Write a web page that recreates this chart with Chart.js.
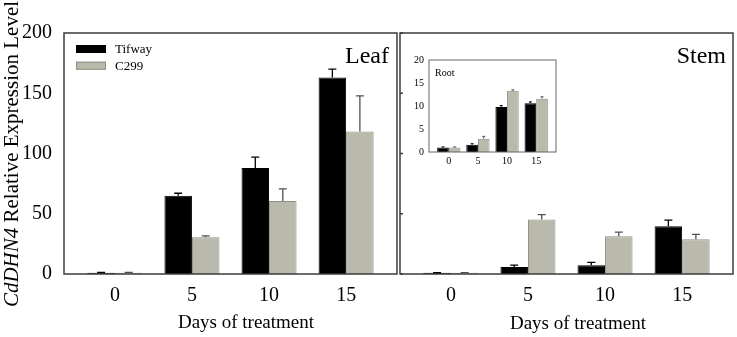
<!DOCTYPE html>
<html>
<head>
<meta charset="utf-8">
<script src="https://cdn.jsdelivr.net/npm/chart.js@4.4.1/dist/chart.umd.min.js"></script>
<style>
    body { margin: 0; background: #fff; }
    #wrap { position: relative; width: 737px; height: 337px; overflow: hidden; }
    #wrap canvas { position: absolute; }
</style>
</head>
<body>
<div id="wrap">
    <canvas id="leaf" width="398" height="337" style="left:0;top:0"></canvas>
    <canvas id="stem" width="347" height="337" style="left:390px;top:0"></canvas>
    <canvas id="root" width="165" height="135" style="left:400px;top:40px"></canvas>
</div>
<script>
// values (days of treatment on x)
const days = [0, 5, 10, 15];

const leafTifway = [1, 65, 88, 163];
const leafTifwayErr = [0.3, 2, 9, 7];
const leafC299 = [1, 30.6, 60.6, 118.3];
const leafC299Err = [0.3, 1, 10, 29.5];

const stemTifway = [1, 5.8, 7.2, 39.7];
const stemTifwayErr = [0.2, 1.5, 2.5, 5];
const stemC299 = [1, 45.3, 31.4, 28.9];
const stemC299Err = [0.2, 4, 3.3, 4];

const rootTifway = [1, 1.6, 9.8, 10.6];
const rootTifwayErr = [0.1, 0.2, 0.3, 0.3];
const rootC299 = [1, 2.9, 13.3, 11.6];
const rootC299Err = [0.1, 0.5, 0.2, 0.4];

const mainTicks = [0, 50, 100, 150, 200];
const rootTicks = [0, 5, 10, 15, 20];

const serif = "'Liberation Serif', 'Times New Roman', serif";
const black = '#000000';
const grey = '#b9b9ac';
const greyEdge = '#8e8e84';

function pts(vals) {
    return days.map((d, i) => ({ x: d, y: vals[i] }));
}

// box round the plot area, plus short inward ticks if asked
const framePlugin = {
    id: 'frame',
    afterDatasetsDraw(chart, args, opts) {
        const ctx = chart.ctx;
        const a = chart.chartArea;
        ctx.save();
        ctx.strokeStyle = opts.color || '#3c3c3c';
        ctx.lineWidth = opts.width || 1.5;
        ctx.strokeRect(a.left, a.top, a.right - a.left, a.bottom - a.top);
        if (opts.tickIn) {
            const y = chart.scales.y;
            ctx.beginPath();
            y.ticks.forEach(t => {
                const py = y.getPixelForValue(t.value);
                ctx.moveTo(a.left, py);
                ctx.lineTo(a.left + opts.tickIn, py);
            });
            ctx.stroke();
        }
        ctx.restore();
    }
};

// one-sided (upward) error bars
const errorBarPlugin = {
    id: 'errorBars',
    afterDatasetsDraw(chart, args, opts) {
        const ctx = chart.ctx;
        const y = chart.scales.y;
        chart.data.datasets.forEach((ds, i) => {
            const meta = chart.getDatasetMeta(i);
            ctx.save();
            ctx.strokeStyle = ds.errorColor;
            ctx.lineWidth = opts.width || 1.2;
            meta.data.forEach((bar, j) => {
                const top = y.getPixelForValue(ds.data[j].y + ds.errors[j]);
                ctx.beginPath();
                ctx.moveTo(bar.x, bar.y);
                ctx.lineTo(bar.x, top);
                ctx.moveTo(bar.x - opts.cap / 2, top);
                ctx.lineTo(bar.x + opts.cap / 2, top);
                ctx.stroke();
            });
            ctx.restore();
        });
    }
};

// free text (panel names, axis titles), mixed italic allowed
const notesPlugin = {
    id: 'notes',
    afterDraw(chart, args, opts) {
        const ctx = chart.ctx;
        (opts.items || []).forEach(it => {
            const parts = it.parts || [{ text: it.text }];
            const fontOf = p => (p.italic ? 'italic ' : '') + it.size + 'px ' + serif;
            ctx.save();
            ctx.fillStyle = '#000';
            ctx.translate(it.x, it.y);
            if (it.rotate) ctx.rotate(it.rotate);
            ctx.textAlign = 'left';
            ctx.textBaseline = it.baseline || 'alphabetic';
            let total = 0;
            parts.forEach(p => { ctx.font = fontOf(p); total += ctx.measureText(p.text).width; });
            let x = it.align === 'right' ? -total : (it.align === 'center' ? -total / 2 : 0);
            parts.forEach(p => {
                ctx.font = fontOf(p);
                ctx.fillText(p.text, x, 0);
                x += ctx.measureText(p.text).width;
            });
            ctx.restore();
        });
    }
};

// legend inside the Leaf panel, stacked boxes
const boxLegendPlugin = {
    id: 'boxLegend',
    afterDraw(chart, args, opts) {
        if (!opts.show) return;
        const ctx = chart.ctx;
        chart.data.datasets.forEach((ds, i) => {
            const y = opts.y + i * opts.gap;
            ctx.save();
            ctx.fillStyle = ds.backgroundColor;
            ctx.fillRect(opts.x, y, opts.boxW, opts.boxH);
            ctx.strokeStyle = ds.borderColor;
            ctx.lineWidth = 1;
            ctx.strokeRect(opts.x + 0.5, y + 0.5, opts.boxW - 1, opts.boxH - 1);
            ctx.fillStyle = '#000';
            ctx.font = opts.size + 'px ' + serif;
            ctx.textBaseline = 'middle';
            ctx.fillText(ds.label, opts.x + opts.boxW + opts.pad, y + opts.boxH / 2 + 1);
            ctx.restore();
        });
    }
};

Chart.register(framePlugin, errorBarPlugin, notesPlugin, boxLegendPlugin);

function barChart(id, cfg) {
    return new Chart(document.getElementById(id), {
        type: 'bar',
        data: {
            datasets: [
                {
                    label: 'Tifway',
                    data: pts(cfg.tifway),
                    errors: cfg.tifwayErr,
                    backgroundColor: black,
                    borderColor: black,
                    borderWidth: 1,
                    errorColor: black
                },
                {
                    label: 'C299',
                    data: pts(cfg.c299),
                    errors: cfg.c299Err,
                    backgroundColor: grey,
                    borderColor: greyEdge,
                    borderWidth: 1,
                    errorColor: '#505050'
                }
            ]
        },
        options: {
            responsive: false,
            animation: false,
            layout: { padding: cfg.padding },
            datasets: { bar: { categoryPercentage: cfg.catPct, barPercentage: 1 } },
            scales: {
                x: {
                    type: 'linear',
                    offset: false,
                    min: cfg.xMin,
                    max: cfg.xMax,
                    grid: { display: false, drawTicks: false },
                    border: { display: false },
                    afterBuildTicks: s => { s.ticks = days.map(v => ({ value: v })); },
                    afterFit: s => { s.height = cfg.xHeight; },
                    ticks: {
                        font: { family: serif, size: cfg.tickSize },
                        color: '#000',
                        padding: cfg.xPad,
                        maxRotation: 0
                    }
                },
                y: {
                    min: 0,
                    max: cfg.yTicks[cfg.yTicks.length - 1],
                    grid: { display: false, drawTicks: false },
                    border: { display: false },
                    afterBuildTicks: s => { s.ticks = cfg.yTicks.map(v => ({ value: v })); },
                    afterFit: s => { s.width = cfg.yWidth; },
                    ticks: {
                        display: cfg.yLabels,
                        font: { family: serif, size: cfg.tickSize },
                        color: '#000',
                        padding: cfg.yPad
                    }
                }
            },
            plugins: {
                legend: { display: false },
                tooltip: { enabled: false },
                frame: cfg.frame,
                errorBars: { cap: cfg.cap, width: cfg.errW },
                notes: { items: cfg.notes },
                boxLegend: cfg.legend || { show: false }
            }
        }
    });
}

barChart('leaf', {
    tifway: leafTifway, tifwayErr: leafTifwayErr,
    c299: leafC299, c299Err: leafC299Err,
    yTicks: mainTicks, yLabels: true,
    padding: { top: 33, right: 1, left: 0, bottom: 0 },
    yWidth: 64, xHeight: 63, xMin: -3.3, xMax: 18.3,
    catPct: 0.714, tickSize: 20, xPad: 10, yPad: 12,
    cap: 8, errW: 1.3,
    frame: { color: '#3c3c3c', width: 1.5, tickIn: 0 },
    legend: { show: true, x: 76, y: 45, boxW: 30, boxH: 8, gap: 16.7, pad: 9, size: 13 },
    notes: [
        { text: 'Leaf', x: 389, y: 63, size: 24, align: 'right' },
        { text: 'Days of treatment', x: 246, y: 328, size: 19, align: 'center' },
        { parts: [{ text: 'CdDHN4', italic: true }, { text: ' Relative Expression Level' }],
          x: 18, y: 154, size: 21, align: 'center', rotate: -Math.PI / 2 }
    ]
});

barChart('stem', {
    tifway: stemTifway, tifwayErr: stemTifwayErr,
    c299: stemC299, c299Err: stemC299Err,
    yTicks: mainTicks, yLabels: false,
    padding: { top: 33, right: 4, left: 0, bottom: 0 },
    yWidth: 10, xHeight: 63, xMin: -3.3, xMax: 18.3,
    catPct: 0.714, tickSize: 20, xPad: 10, yPad: 0,
    cap: 8, errW: 1.3,
    frame: { color: '#3c3c3c', width: 1.5, tickIn: 3 },
    notes: [
        { text: 'Stem', x: 336, y: 63, size: 24, align: 'right' },
        { text: 'Days of treatment', x: 188, y: 329, size: 19, align: 'center' }
    ]
});

barChart('root', {
    tifway: rootTifway, tifwayErr: rootTifwayErr,
    c299: rootC299, c299Err: rootC299Err,
    yTicks: rootTicks, yLabels: true,
    padding: { top: 20, right: 9, left: 0, bottom: 0 },
    yWidth: 29, xHeight: 23, xMin: -3.4, xMax: 18.4,
    catPct: 0.8, tickSize: 10, xPad: 3, yPad: 5,
    cap: 3, errW: 1,
    frame: { color: '#666666', width: 1, tickIn: 0 },
    notes: [
        { text: 'Root', x: 35, y: 36, size: 10, align: 'left' }
    ]
});
</script>
</body>
</html>
